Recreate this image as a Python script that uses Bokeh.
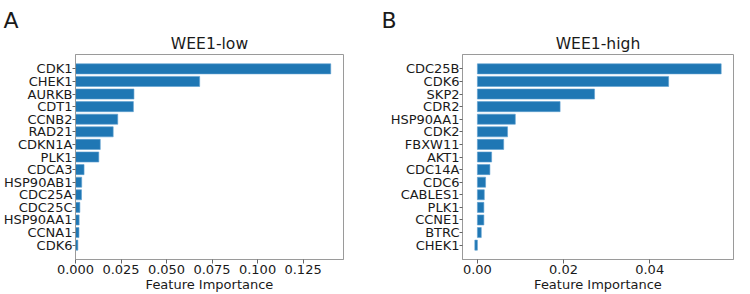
from bokeh.plotting import figure
from bokeh.models import FactorRange, Range1d, FixedTicker, NumeralTickFormatter, Title
from bokeh.layouts import row
from bokeh.embed import file_html
from bokeh.resources import INLINE

low_genes = ["CDK1", "CHEK1", "AURKB", "CDT1", "CCNB2", "RAD21", "CDKN1A", "PLK1",
             "CDCA3", "HSP90AB1", "CDC25A", "CDC25C", "HSP90AA1", "CCNA1", "CDK6"]
low_vals = [0.1402, 0.0682, 0.0321, 0.0318, 0.0232, 0.0207, 0.0136, 0.0128,
            0.0047, 0.0034, 0.0033, 0.0024, 0.0020, 0.0019, 0.0013]

high_genes = ["CDC25B", "CDK6", "SKP2", "CDR2", "HSP90AA1", "CDK2", "FBXW11", "AKT1",
              "CDC14A", "CDC6", "CABLES1", "PLK1", "CCNE1", "BTRC", "CHEK1"]
high_vals = [0.0566, 0.0444, 0.0272, 0.0192, 0.0088, 0.0070, 0.0061, 0.0033,
             0.0029, 0.0019, 0.0016, 0.0015, 0.0015, 0.0009, -0.0006]

low_ticks = [0.0, 0.025, 0.05, 0.075, 0.1, 0.125]
high_ticks = [0.0, 0.02, 0.04]

FONT = "DejaVu Sans"
BAR = "#1f77b4"
EDGE = "#5e9fd0"
SPINE = "#9a9a9a"
TICK = "#666666"
TXT = "#1a1a1a"
FS = "13px"


def auto_range(vals):
    lo = min(min(vals), 0.0)
    hi = max(max(vals), 0.0)
    r = hi - lo
    start = lo if min(vals) >= 0 else lo - 0.05 * r
    end = hi + 0.05 * r
    return Range1d(start, end)


def panel(genes, vals, title, letter, ticks, fmt, width, bl, br, letter_dx):
    p = figure(width=width, height=294, title=None,
               y_range=FactorRange(factors=genes[::-1], range_padding=0.64,
                                   range_padding_units="absolute"),
               x_range=auto_range(vals),
               output_backend="svg", toolbar_location=None,
               min_border_left=bl, min_border_right=br,
               min_border_top=54, min_border_bottom=34)
    p.hbar(y=genes, left=0, right=vals, height=0.8,
           fill_color=BAR, line_color=EDGE, line_width=0.6)
    p.grid.visible = False
    p.outline_line_color = SPINE
    p.outline_line_width = 1
    p.background_fill_color = "white"
    p.border_fill_color = "white"

    p.add_layout(Title(text=title, align="center", text_font=FONT,
                       text_font_size="15.6px", text_font_style="normal",
                       text_color=TXT, standoff=4), "above")
    p.add_layout(Title(text=letter, align="left", offset=letter_dx, text_font=FONT,
                       text_font_size="22px", text_font_style="normal",
                       text_color=TXT, standoff=-4), "above")

    xa = p.xaxis[0]
    xa.ticker = FixedTicker(ticks=ticks)
    xa.formatter = NumeralTickFormatter(format=fmt)
    xa.axis_label = "Feature Importance"
    xa.axis_label_text_font = FONT
    xa.axis_label_text_font_size = FS
    xa.axis_label_text_font_style = "normal"
    xa.axis_label_text_color = TXT
    xa.axis_label_standoff = 0
    xa.major_label_text_font = FONT
    xa.major_label_text_font_size = FS
    xa.major_label_text_color = TXT
    xa.major_label_standoff = 1
    xa.major_tick_in = 0
    xa.major_tick_out = 4
    xa.minor_tick_in = 0
    xa.minor_tick_out = 0
    xa.axis_line_color = SPINE
    xa.major_tick_line_color = TICK

    ya = p.yaxis[0]
    ya.major_label_text_font = FONT
    ya.major_label_text_font_size = FS
    ya.major_label_text_color = TXT
    ya.major_label_standoff = 0
    ya.major_tick_in = 0
    ya.major_tick_out = 3
    ya.axis_line_color = SPINE
    ya.major_tick_line_color = TICK
    return p


p1 = panel(low_genes, low_vals, "WEE1-low", "A", low_ticks, "0.000",
           363, 72, 20, -72)
p2 = panel(high_genes, high_vals, "WEE1-high", "B", high_ticks, "0.00",
           371, 99, 1, -81)

layout = row(p1, p2, spacing=0)

open("out.html", "w").write(file_html(layout, INLINE))
